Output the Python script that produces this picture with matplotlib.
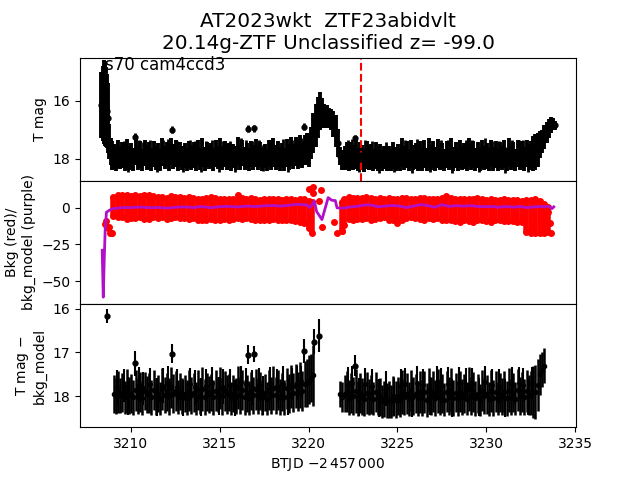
import numpy as np
import matplotlib
matplotlib.use("Agg")
import matplotlib.pyplot as plt

nan = float("nan")

# light curve columns, 8 per day
btjd = [
    3209.02, 3209.14, 3209.27, 3209.39, 3209.52, 3209.64, 3209.77, 3209.89,
    3210.02, 3210.14, 3210.27, 3210.39, 3210.52, 3210.64, 3210.77, 3210.89,
    3211.02, 3211.14, 3211.27, 3211.39, 3211.52, 3211.64, 3211.77, 3211.89,
    3212.02, 3212.14, 3212.27, 3212.39, 3212.52, 3212.64, 3212.77, 3212.89,
    3213.02, 3213.14, 3213.27, 3213.39, 3213.52, 3213.64, 3213.77, 3213.89,
    3214.02, 3214.14, 3214.27, 3214.39, 3214.52, 3214.64, 3214.77, 3214.89,
    3215.02, 3215.14, 3215.27, 3215.39, 3215.52, 3215.64, 3215.77, 3215.89,
    3216.02, 3216.14, 3216.27, 3216.39, 3216.52, 3216.64, 3216.77, 3216.89,
    3217.02, 3217.14, 3217.27, 3217.39, 3217.52, 3217.64, 3217.77, 3217.89,
    3218.02, 3218.14, 3218.27, 3218.39, 3218.52, 3218.64, 3218.77, 3218.89,
    3219.02, 3219.14, 3219.27, 3219.39, 3219.52, 3219.64, 3219.77, 3219.89,
    3220.02, 3220.14, 3220.27, 3220.39, 3220.52, 3220.64, 3220.77, 3220.89,
    3221.02, 3221.14, 3221.27, 3221.39, 3221.52, 3221.64, 3221.77, 3221.89,
    3222.02, 3222.14, 3222.27, 3222.39, 3222.52, 3222.64, 3222.77, 3222.89,
    3223.02, 3223.14, 3223.27, 3223.39, 3223.52, 3223.64, 3223.77, 3223.89,
    3224.02, 3224.14, 3224.27, 3224.39, 3224.52, 3224.64, 3224.77, 3224.89,
    3225.02, 3225.14, 3225.27, 3225.39, 3225.52, 3225.64, 3225.77, 3225.89,
    3226.02, 3226.14, 3226.27, 3226.39, 3226.52, 3226.64, 3226.77, 3226.89,
    3227.02, 3227.14, 3227.27, 3227.39, 3227.52, 3227.64, 3227.77, 3227.89,
    3228.02, 3228.14, 3228.27, 3228.39, 3228.52, 3228.64, 3228.77, 3228.89,
    3229.02, 3229.14, 3229.27, 3229.39, 3229.52, 3229.64, 3229.77, 3229.89,
    3230.02, 3230.14, 3230.27, 3230.39, 3230.52, 3230.64, 3230.77, 3230.89,
    3231.02, 3231.14, 3231.27, 3231.39, 3231.52, 3231.64, 3231.77, 3231.89,
    3232.02, 3232.14, 3232.27, 3232.39, 3232.52, 3232.64, 3232.77, 3232.89,
    3233.02, 3233.14, 3233.27, 3233.39, 3233.52, 3233.64, 3233.77, 3233.89,
]
t_mag = [
    17.92, 18.02, 17.84, 17.96, 17.88, 18.05, 17.82, 17.98,
    17.90, 18.03, 17.76, 17.97, 17.86, 18.04, 17.80, 17.95,
    17.88, 18.02, 17.84, 17.98, 17.90, 18.05, 17.78, 17.96,
    17.86, 18.00, 17.74, 17.92, 17.82, 18.04, 17.86, 17.98,
    17.90, 18.03, 17.85, 17.96, 17.88, 18.06, 17.80, 17.99,
    17.78, 18.00, 17.86, 17.95, 17.90, 18.04, 17.82, 17.96,
    17.76, 17.98, 17.84, 17.94, 17.88, 18.05, 17.90, 17.97,
    17.74, 17.96, 17.80, 18.00, 17.88, 18.03, 17.84, 17.95,
    17.80, 17.98, 17.86, 18.02, 17.90, 18.05, 17.82, 17.97,
    17.78, 17.96, 17.84, 18.00, 17.88, 18.03, 17.80, 17.94,
    17.76, 17.92, 17.74, 17.90, 17.72, 17.86, 17.70, 17.66,
    17.70, 17.45, 17.12, 16.85, 16.58, 16.36, 16.42, 16.52,
    16.55, 16.60, 16.65, 16.80, 17.05, 17.45, 17.90, 18.05,
    17.98, 17.88, 18.02, 17.90, 17.96, 17.84, 18.03, 17.88,
    17.96, 18.05, 17.86, 17.98, 17.92, 18.04, 17.88, 18.00,
    17.92, 18.06, 17.96, 18.02, 17.98, 18.05, 17.88, 18.00,
    17.94, 18.03, 17.80, 17.98, 17.86, 18.04, 17.84, 17.96,
    17.90, 18.02, 17.86, 18.00, 17.84, 18.03, 17.80, 17.96,
    17.86, 18.02, 17.82, 17.98, 17.90, 18.05, 17.86, 17.96,
    17.80, 18.00, 17.88, 18.03, 17.84, 17.98, 17.90, 18.04,
    17.78, 17.96, 17.86, 18.02, 17.88, 18.05, 17.84, 17.98,
    17.90, 18.03, 17.82, 18.00, 17.86, 18.04, 17.88, 17.97,
    17.84, 18.02, 17.80, 17.98, 17.88, 18.04, 17.82, 17.96,
    17.86, 18.00, 17.82, 17.94, 17.88, 17.82, 17.78, 17.70,
    17.50, 17.40, 17.25, 17.10, 16.95, 16.85, 16.80, 16.85,
]
t_mag_err = [
    0.43, 0.41, 0.48, 0.40, 0.44, 0.38, 0.50, 0.42,
    0.45, 0.40, 0.47, 0.41, 0.46, 0.39, 0.44, 0.43,
    0.46, 0.40, 0.45, 0.42, 0.43, 0.38, 0.48, 0.41,
    0.44, 0.42, 0.46, 0.44, 0.45, 0.39, 0.42, 0.41,
    0.43, 0.40, 0.47, 0.42, 0.44, 0.37, 0.46, 0.41,
    0.50, 0.42, 0.44, 0.42, 0.43, 0.39, 0.47, 0.41,
    0.48, 0.42, 0.45, 0.44, 0.43, 0.38, 0.42, 0.41,
    0.50, 0.42, 0.46, 0.40, 0.43, 0.39, 0.44, 0.43,
    0.47, 0.41, 0.44, 0.40, 0.42, 0.38, 0.46, 0.42,
    0.50, 0.43, 0.45, 0.41, 0.43, 0.39, 0.47, 0.44,
    0.50, 0.44, 0.50, 0.45, 0.52, 0.46, 0.52, 0.55,
    0.57, 0.55, 0.70, 0.75, 0.72, 0.64, 0.52, 0.42,
    0.40, 0.35, 0.35, 0.45, 0.55, 0.48, 0.30, 0.35,
    0.42, 0.47, 0.40, 0.46, 0.43, 0.50, 0.40, 0.46,
    0.42, 0.39, 0.48, 0.41, 0.44, 0.38, 0.46, 0.41,
    0.44, 0.37, 0.41, 0.40, 0.42, 0.38, 0.46, 0.42,
    0.43, 0.40, 0.50, 0.42, 0.47, 0.39, 0.47, 0.43,
    0.45, 0.40, 0.48, 0.41, 0.48, 0.39, 0.50, 0.44,
    0.47, 0.41, 0.50, 0.42, 0.44, 0.38, 0.47, 0.43,
    0.50, 0.41, 0.44, 0.40, 0.47, 0.42, 0.44, 0.38,
    0.50, 0.43, 0.46, 0.40, 0.44, 0.37, 0.47, 0.41,
    0.44, 0.39, 0.48, 0.41, 0.47, 0.38, 0.45, 0.42,
    0.47, 0.40, 0.50, 0.42, 0.45, 0.38, 0.48, 0.43,
    0.46, 0.41, 0.48, 0.46, 0.50, 0.60, 0.62, 0.60,
    0.47, 0.40, 0.40, 0.35, 0.32, 0.28, 0.20, 0.15,
]
# bottom panel, gap through the bump and past 3233.3
t_mag_sub = [
    17.95, 18.00, 17.90, 17.98, 17.92, 18.03, 17.88, 17.98,
    17.94, 18.02, 17.86, 18.00, 17.90, 18.04, 17.88, 17.96,
    17.92, 18.03, 17.86, 18.00, 17.94, 18.06, 17.84, 17.98,
    17.90, 18.00, 17.80, 17.94, 17.88, 18.02, 17.90, 18.00,
    17.94, 18.04, 17.88, 17.98, 17.92, 18.05, 17.86, 18.00,
    17.84, 18.02, 17.90, 17.96, 17.92, 18.03, 17.88, 17.96,
    17.82, 18.00, 17.88, 17.96, 17.92, 18.05, 17.94, 18.00,
    17.80, 17.98, 17.86, 18.02, 17.94, 18.04, 17.88, 17.98,
    17.84, 18.00, 17.88, 18.04, 17.92, 18.06, 17.86, 17.98,
    17.82, 17.98, 17.86, 18.02, 17.90, 18.03, 17.82, 17.94,
    17.78, 17.92, 17.76, 17.90, 17.74, 17.88, 17.72, 17.70,
    17.62, 17.58, 17.52, nan, nan, nan, nan, nan,
    nan, nan, nan, nan, nan, nan, 17.95, 18.02,
    17.94, 17.90, 18.04, 17.92, 18.00, 17.88, 18.06, 17.92,
    18.00, 18.06, 17.92, 18.02, 17.96, 18.06, 17.90, 18.02,
    18.02, 18.12, 18.06, 18.10, 18.08, 18.12, 18.00, 18.08,
    18.00, 18.08, 17.90, 18.02, 17.94, 18.06, 17.88, 18.00,
    17.94, 18.05, 17.90, 18.04, 17.90, 18.08, 17.86, 18.00,
    17.90, 18.05, 17.88, 18.02, 17.94, 18.08, 17.90, 18.00,
    17.86, 18.04, 17.92, 18.06, 17.90, 18.02, 17.94, 18.06,
    17.84, 18.00, 17.90, 18.05, 17.94, 18.08, 17.88, 18.00,
    17.96, 18.06, 17.88, 18.04, 17.90, 18.06, 17.92, 18.00,
    17.90, 18.05, 17.86, 18.02, 17.92, 18.06, 17.86, 18.00,
    17.90, 18.02, 17.88, 17.98, 17.92, 17.90, 17.90, 17.75,
    17.50, 17.40, 17.30, nan, nan, nan, nan, nan,
]

# taller single points poking out of the band, top and bottom panel
spike_t = [
    3209.20, 3209.58, 3209.83, 3210.45, 3210.70, 3211.08, 3211.45, 3211.83, 3212.08, 3212.58,
    3212.95, 3213.33, 3213.58, 3213.95, 3214.20, 3214.58, 3214.95, 3215.20, 3215.58, 3215.83,
    3216.20, 3216.45, 3216.83, 3217.20, 3217.45, 3217.83, 3218.20, 3218.58, 3218.83, 3219.08,
    3219.33, 3219.58, 3222.20, 3222.45, 3222.83, 3223.20, 3223.58, 3223.95, 3224.33, 3224.83,
    3225.20, 3225.45, 3225.83, 3226.08, 3226.45, 3226.83, 3227.20, 3227.45, 3227.83, 3228.08,
    3228.45, 3228.83, 3229.20, 3229.58, 3229.95, 3230.33, 3230.70, 3231.08, 3231.45, 3231.83,
    3232.08, 3232.33, 3232.58,
]
spike_mag = [
    17.80, 17.76, 18.00, 17.74, 17.82, 17.72, 18.02, 17.76, 17.70, 17.78,
    18.04, 17.72, 17.80, 18.02, 17.76, 17.70, 18.00, 17.78, 17.74, 18.04,
    17.68, 17.72, 17.80, 17.74, 17.98, 17.70, 17.76, 17.72, 18.02, 17.72,
    17.70, 17.66, 17.74, 17.70, 18.02, 17.72, 17.76, 18.04, 17.82, 18.02,
    17.76, 17.72, 18.04, 17.70, 17.74, 18.00, 17.68, 17.76, 17.72, 18.04,
    17.70, 17.74, 17.72, 18.02, 17.68, 17.74, 17.78, 18.04, 17.72, 17.70,
    17.74, 18.02, 17.70,
]
spike_err = [
    0.40, 0.38, 0.44, 0.40, 0.38, 0.36, 0.44, 0.40, 0.38, 0.40,
    0.42, 0.36, 0.40, 0.44, 0.38, 0.36, 0.44, 0.40, 0.36, 0.42,
    0.38, 0.36, 0.40, 0.38, 0.44, 0.36, 0.38, 0.40, 0.42, 0.36,
    0.38, 0.36, 0.40, 0.38, 0.44, 0.36, 0.38, 0.44, 0.40, 0.44,
    0.38, 0.36, 0.44, 0.38, 0.36, 0.44, 0.36, 0.40, 0.38, 0.44,
    0.36, 0.38, 0.36, 0.44, 0.38, 0.36, 0.40, 0.44, 0.38, 0.36,
    0.38, 0.42, 0.36,
]

# early steep part, top panel only
rise_t = [3208.34, 3208.40, 3208.46, 3208.52, 3208.58, 3208.64, 3208.70, 3208.78, 3208.86, 3208.94]
rise_mag = [16.15, 16.10, 16.05, 16.10, 16.22, 16.37, 16.60, 17.40, 17.75, 17.90]
rise_err = [1.15, 1.30, 1.45, 1.45, 1.38, 1.27, 1.20, 0.60, 0.45, 0.50]

# points standing clear of the band
flare_t = [3210.25, 3212.30, 3216.60, 3216.90, 3219.75, 3222.60]
flare_mag = [17.25, 17.00, 16.97, 16.95, 16.90, 17.30]
flare_err = [0.15, 0.12, 0.12, 0.12, 0.12, 0.12]
flare_sub_t = [3208.65, 3210.25, 3212.30, 3216.60, 3216.90, 3219.75, 3220.30, 3220.60, 3222.60]
flare_sub_mag = [16.17, 17.25, 17.03, 17.05, 17.03, 16.97, 16.75, 16.62, 17.30]
flare_sub_err = [0.16, 0.28, 0.22, 0.22, 0.18, 0.28, 0.28, 0.38, 0.24]

# background columns, 4 per day: upper and lower edge of the red cloud
bkg_t = [
    3209.00, 3209.25, 3209.50, 3209.75, 3210.00, 3210.25, 3210.50, 3210.75,
    3211.00, 3211.25, 3211.50, 3211.75, 3212.00, 3212.25, 3212.50, 3212.75,
    3213.00, 3213.25, 3213.50, 3213.75, 3214.00, 3214.25, 3214.50, 3214.75,
    3215.00, 3215.25, 3215.50, 3215.75, 3216.00, 3216.25, 3216.50, 3216.75,
    3217.00, 3217.25, 3217.50, 3217.75, 3218.00, 3218.25, 3218.50, 3218.75,
    3219.00, 3219.25, 3219.50, 3219.75, 3220.00, 3220.20,
    3221.85, 3222.00, 3222.25, 3222.50, 3222.75, 3223.00, 3223.25, 3223.50, 3223.75,
    3224.00, 3224.25, 3224.50, 3224.75, 3225.00, 3225.25, 3225.50, 3225.75,
    3226.00, 3226.25, 3226.50, 3226.75, 3227.00, 3227.25, 3227.50, 3227.75,
    3228.00, 3228.25, 3228.50, 3228.75, 3229.00, 3229.25, 3229.50, 3229.75,
    3230.00, 3230.25, 3230.50, 3230.75, 3231.00, 3231.25, 3231.50, 3231.75,
    3232.00, 3232.25, 3232.50, 3232.75, 3233.00, 3233.25, 3233.50,
]
bkg_hi = [
    7.5, 8.6, 8.8, 8.5, 8.2, 8.6, 8.4, 8.8,
    8.9, 8.0, 7.2, 7.6, 7.0, 7.8, 7.6, 7.4,
    6.6, 7.3, 7.0, 6.4, 6.2, 6.6, 7.2, 6.8,
    6.0, 6.4, 6.2, 5.8, 6.0, 6.5, 6.2, 6.6,
    6.2, 5.6, 5.9, 6.3, 5.8, 6.0, 5.5, 6.2,
    6.0, 5.6, 5.9, 6.4, 5.0, 4.0,
    4.0, 6.0, 7.5, 6.5, 6.8, 6.6, 7.2, 7.0, 6.4,
    6.5, 6.0, 6.6, 6.0, 6.4, 6.8, 6.6, 6.0,
    6.2, 6.6, 6.8, 6.2, 5.8, 6.4, 6.8, 8.2,
    7.0, 6.4, 6.0, 5.8, 6.2, 6.4, 6.6, 6.2,
    5.6, 5.8, 5.4, 5.6, 5.8, 5.2, 5.4, 5.6,
    5.0, 5.4, 5.2, 5.8, 4.5, 2.5, 0.5,
]
bkg_lo = [
    -5.5, -6.0, -6.5, -7.5, -7.0, -7.0, -6.5, -7.5,
    -7.5, -6.5, -7.0, -6.5, -7.5, -7.0, -6.5, -7.0,
    -7.0, -7.5, -7.0, -8.0, -8.0, -8.5, -7.5, -8.5,
    -8.0, -7.5, -8.0, -7.5, -7.0, -7.5, -7.0, -7.5,
    -8.5, -8.5, -8.0, -8.5, -7.5, -8.5, -8.0, -8.0,
    -8.5, -9.0, -9.5, -10.5, -14.0, -17.0,
    -16.0, -12.0, -7.5, -8.0, -7.5, -7.5, -7.0, -8.0, -7.5,
    -7.0, -6.5, -8.0, -8.5, -7.5, -8.0, -7.0, -6.5,
    -7.0, -7.5, -8.0, -7.0, -7.5, -7.0, -8.0, -8.5,
    -8.5, -9.0, -9.5, -8.5, -9.0, -9.5, -8.5, -8.5,
    -9.0, -9.5, -8.5, -8.5, -9.0, -9.0, -9.0, -9.5,
    -9.5, -16.5, -17.0, -17.5, -17.0, -17.0, -16.5,
]
# stray background points
stray_t = [3208.55, 3208.70, 3208.80, 3208.90, 3208.95, 3208.60, 3208.75, 3216.00, 3220.00, 3220.25, 3220.60, 3220.70, 3220.25, 3220.75, 3221.45, 3221.60, 3221.85, 3225.00, 3233.50, 3233.60, 3233.65]
stray_bkg = [-11.0, -14.0, -17.0, -17.0, -17.5, -9.0, -13.0, 9.0, 13.0, 14.4, 5.0, 12.3, 10.0, -13.0, -9.8, -17.0, -16.0, -10.0, -3.0, -10.0, -17.5]

# background model line
model_t = [
    3208.38, 3208.40, 3208.44, 3208.50, 3208.55, 3208.62, 3208.80, 3209.00, 3209.50, 3210.00,
    3210.50, 3211.00, 3211.50, 3212.00, 3212.50, 3213.00, 3213.50, 3214.00, 3214.50, 3215.00,
    3215.50, 3216.00, 3216.50, 3217.00, 3217.50, 3218.00, 3218.50, 3219.00, 3219.40, 3219.90,
    3220.05, 3220.20, 3220.32, 3220.45, 3220.75, 3221.10, 3221.30, 3221.50, 3221.60, 3221.90,
    3222.30, 3222.70, 3223.10, 3223.50, 3223.90, 3224.30, 3224.70, 3225.10, 3225.50, 3225.90,
    3226.30, 3226.70, 3227.10, 3227.50, 3227.90, 3228.30, 3228.70, 3229.10, 3229.50, 3229.90,
    3230.30, 3230.70, 3231.10, 3231.50, 3231.90, 3232.30, 3232.70, 3233.00, 3233.30, 3233.50, 3233.70, 3233.80,
]
bkg_model = [
    -29.0, -40.0, -61.0, -33.0, -14.0, -3.0, -1.5, -0.5, 0.2, 0.2,
    0.6, 0.1, 0.3, -0.2, 0.4, 0.7, 0.2, 0.9, 0.1, 0.8,
    1.0, 0.6, 1.2, 0.9, 1.4, 1.6, 1.2, 2.0, 2.4, 2.0,
    0.2, 2.0, 4.8, -2.5, -8.0, 7.0, 5.2, 5.0, 0.0, -0.2,
    0.5, 1.0, 1.9, 2.0, 0.7, 1.2, 1.6, 1.3, 0.2, 1.2,
    2.2, 1.6, 0.4, 2.2, 1.0, 1.5, 1.2, 1.5, 1.0, 0.8,
    1.0, 0.4, 1.0, 0.5, 0.9, 0.2, 0.7, 1.0, 0.6, 1.2, -0.5, 0.7,
]

tick_mag = [16, 18]
tick_bkg = [0, -25, -50]
tick_sub = [16, 17, 18]
event_t = 3222.95

fig, (ax1, ax2, ax3) = plt.subplots(3, 1, sharex=True, figsize=(6.4, 4.8))
fig.subplots_adjust(hspace=0)

ax1.set_title("AT2023wkt  ZTF23abidvlt\n20.14g-ZTF Unclassified z= -99.0", fontsize=14.4)

ax1.errorbar(btjd, t_mag, yerr=t_mag_err, fmt="k.", ms=7, elinewidth=2.8)
ax1.errorbar(spike_t, spike_mag, yerr=spike_err, fmt="k.", ms=7, elinewidth=2.0)
ax1.errorbar(rise_t, rise_mag, yerr=rise_err, fmt="k.", ms=7, elinewidth=2.8)
ax1.errorbar(flare_t, flare_mag, yerr=flare_err, fmt="k.", ms=7, elinewidth=2.0)
ax1.axvline(event_t, color="r", ls="--", lw=1.5)
ax1.set_ylim(18.76, 14.52)
ax1.set_yticks(tick_mag)
ax1.set_ylabel("T mag")
ax1.text(3208.52, 14.95, "s70 cam4ccd3", fontsize=12)

ax2.vlines(bkg_t, bkg_lo, bkg_hi, color="r", lw=4)
ax2.plot(bkg_t, bkg_hi, "r.", ms=8, ls="none")
ax2.plot(bkg_t, bkg_lo, "r.", ms=8, ls="none")
ax2.plot(stray_t, stray_bkg, "r.", ms=8, ls="none")
ax2.plot(model_t, bkg_model, color="#b010c8", lw=2)
ax2.set_ylim(-65.7, 18.5)
ax2.set_yticks(tick_bkg)
ax2.set_ylabel("Bkg (red)/\nbkg_model (purple)")

ax3.errorbar(btjd, t_mag_sub, yerr=t_mag_err, fmt="k.", ms=6, elinewidth=1.8)
ax3.errorbar(spike_t, spike_mag, yerr=spike_err, fmt="k.", ms=5, elinewidth=1.5)
ax3.errorbar(flare_sub_t, flare_sub_mag, yerr=flare_sub_err, fmt="k.", ms=7, elinewidth=1.5)
ax3.set_ylim(18.71, 15.89)
ax3.set_yticks(tick_sub)
ax3.set_ylabel("T mag $-$\nbkg_model")
ax3.set_xlabel(r"BTJD $-2\,457\,000$")
ax3.set_xlim(3207.13, 3235.05)
ax3.set_xticks([3210, 3215, 3220, 3225, 3230, 3235])

fig.savefig("out.png", dpi=100)
